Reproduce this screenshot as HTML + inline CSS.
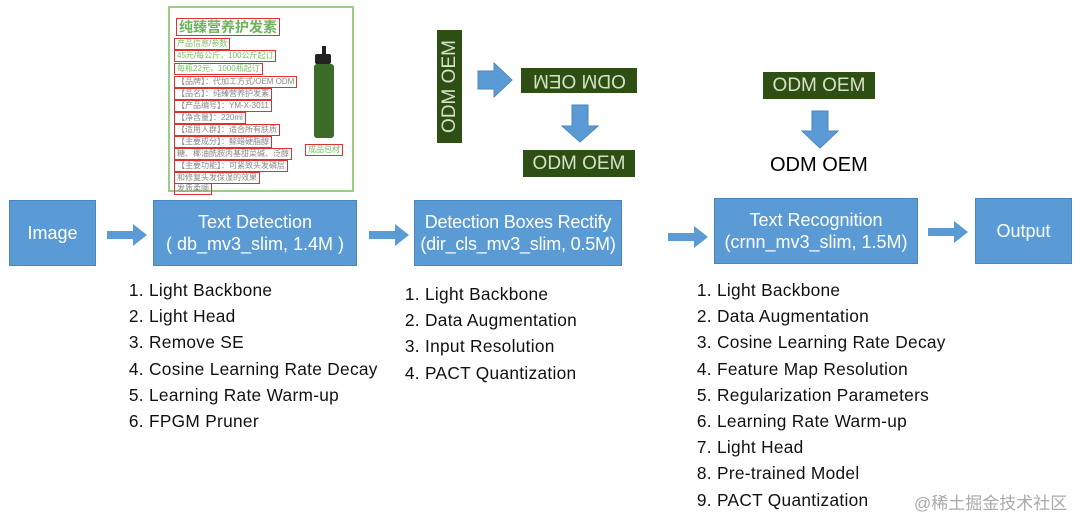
<!DOCTYPE html>
<html><head><meta charset="utf-8"><style>
body{margin:0;width:1080px;height:518px;background:#fff;position:relative;overflow:hidden;font-family:"Liberation Sans","Noto Sans CJK SC",sans-serif}
.a{position:absolute}
.box{position:absolute;background:#5b9bd5;color:#fff;text-align:center;display:flex;flex-direction:column;justify-content:center;font-size:18px;line-height:22px;border:1px solid #4a86bd;box-sizing:border-box;white-space:nowrap}
.patch{position:absolute;background:#2d4f14;color:#d8e0c8;font-size:19px;text-align:center;line-height:1;display:flex;align-items:center;justify-content:center;white-space:nowrap}
ol{position:absolute;margin:0;padding-left:22px;font-size:17.3px;line-height:26.2px;color:#111;letter-spacing:0.3px}
.pi{position:absolute;border:1.5px solid #e03030;font-size:8px;color:#888;padding:0 2px;white-space:nowrap;line-height:10px}
</style></head><body>
<div class="box" style="left:9px;top:200px;width:87px;height:66px">Image</div>
<div class="box" style="left:153px;top:200px;width:204px;height:66px">Text Detection<br>( db_mv3_slim, 1.4M )</div>
<div class="box" style="left:414px;top:200px;width:208px;height:66px;letter-spacing:-0.2px">Detection Boxes Rectify<br>(dir_cls_mv3_slim, 0.5M)</div>
<div class="box" style="left:714px;top:198px;width:204px;height:66px">Text Recognition<br>(crnn_mv3_slim, 1.5M)</div>
<div class="box" style="left:975px;top:198px;width:97px;height:66px">Output</div>
<svg class="a" style="left:0;top:0" width="1080" height="518">
<g fill="#5b9bd5">
<polygon points="107,231 133,231 133,224 147,235 133,246 133,239 107,239"/>
<polygon points="369,231 395,231 395,224 409,235 395,246 395,239 369,239"/>
<polygon points="668,233 694,233 694,226 708,237 694,248 694,241 668,241"/>
<polygon points="928,228 954,228 954,221 968,232 954,243 954,236 928,236"/>
<polygon points="478,71 494,71 494,63 512,80 494,97 494,89 478,89" stroke="#4a86bd"/>
<polygon points="572,105 588,105 588,126 598,126 580,142 562,126 572,126" stroke="#4a86bd"/>
<polygon points="812,111 828,111 828,131 838,131 820,148 802,131 812,131" stroke="#4a86bd"/>
</g></svg>
<div class="patch" style="left:437px;top:30px;width:25px;height:113px"><span style="transform:rotate(-90deg);display:inline-block">ODM OEM</span></div>
<div class="patch" style="left:521px;top:68px;width:116px;height:25px"><span style="transform:scale(-1,-1);display:inline-block">ODM OEM</span></div>
<div class="patch" style="left:523px;top:150px;width:112px;height:27px">ODM OEM</div>
<div class="patch" style="left:763px;top:72px;width:112px;height:27px">ODM OEM</div>
<div class="a" style="left:770px;top:154px;font-size:20px;color:#000">ODM OEM</div>
<div class="a" style="left:168px;top:6px;width:186px;height:186px;border:2px solid #9ccc88;box-sizing:border-box">
<div class="pi" style="left:6px;top:10px;font-size:14px;line-height:16px;color:#6db35a;font-weight:bold">纯臻营养护发素</div>
<div class="pi" style="left:4px;top:30px;color:#7bbf66">产品信息/参数</div>
<div class="pi" style="left:4px;top:42px;color:#7bbf66">45元/每公斤，100公斤起订</div>
<div class="pi" style="left:4px;top:55px;color:#7bbf66">每瓶22元，1000瓶起订</div>
<div class="pi" style="left:4px;top:68px">【品牌】：代加工方式/OEM ODM</div>
<div class="pi" style="left:4px;top:80px">【品名】：纯臻营养护发素</div>
<div class="pi" style="left:4px;top:92px">【产品编号】：YM-X-3011</div>
<div class="pi" style="left:4px;top:104px">【净含量】：220ml</div>
<div class="pi" style="left:4px;top:116px">【适用人群】：适合所有肤质</div>
<div class="pi" style="left:4px;top:128px">【主要成分】：鲸蜡硬脂醇</div>
<div class="pi" style="left:4px;top:140px">糖、椰油酰胺丙基甜菜碱、泛醇</div>
<div class="pi" style="left:4px;top:152px">【主要功能】：可紧致头发磷层</div>
<div class="pi" style="left:4px;top:164px">和修复头发保湿的效果</div>
<div class="pi" style="left:4px;top:175px">发质柔顺</div>
<div class="pi" style="left:135px;top:136px;color:#7bbf66">成品包材</div>
<div class="a" style="left:152px;top:38px;width:4px;height:10px;background:#222"></div>
<div class="a" style="left:145px;top:46px;width:16px;height:10px;background:#222;border-radius:2px"></div>
<div class="a" style="left:144px;top:56px;width:20px;height:74px;background:#3d6b2a;border-radius:3px"></div>
</div>
<ol style="left:127px;top:277px"><li>Light Backbone</li><li>Light Head</li><li>Remove SE</li><li>Cosine Learning Rate Decay</li><li>Learning Rate Warm-up</li><li>FPGM Pruner</li></ol>
<ol style="left:403px;top:281px"><li>Light Backbone</li><li>Data Augmentation</li><li>Input Resolution</li><li>PACT Quantization</li></ol>
<ol style="left:695px;top:277px"><li>Light Backbone</li><li>Data Augmentation</li><li>Cosine Learning Rate Decay</li><li>Feature Map Resolution</li><li>Regularization Parameters</li><li>Learning Rate Warm-up</li><li>Light Head</li><li>Pre-trained Model</li><li>PACT Quantization</li></ol>
<div class="a" style="left:914px;top:489px;font-size:17px;color:#aaa">@稀土掘金技术社区</div>
</body></html>
